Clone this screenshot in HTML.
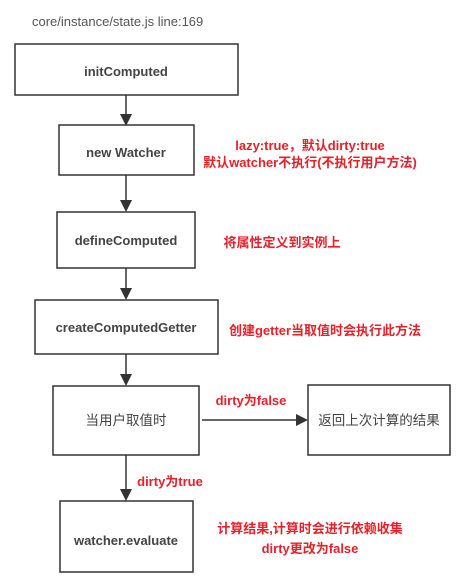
<!DOCTYPE html>
<html><head><meta charset="utf-8"><style>
body{margin:0;background:#fff;}
svg text{font-family:"Liberation Sans","Noto Sans CJK SC",sans-serif;}
</style></head><body>
<svg width="459" height="577" xmlns="http://www.w3.org/2000/svg">
<text x="32" y="26" font-size="13" fill="#555">core/instance/state.js  line:169</text>
<g fill="none" stroke="#333" stroke-width="1.5">
<rect x="15" y="44" width="223" height="51"/>
<rect x="59" y="125" width="135" height="50"/>
<rect x="57" y="212" width="138" height="56"/>
<rect x="35" y="300" width="183" height="54"/>
<rect x="53" y="386" width="146" height="69"/>
<rect x="308" y="385" width="142" height="70"/>
<rect x="60" y="501" width="133" height="71"/>
<line x1="126" y1="95" x2="126" y2="114"/>
<line x1="126" y1="175" x2="126" y2="201"/>
<line x1="126" y1="268" x2="126" y2="289"/>
<line x1="126" y1="354" x2="126" y2="375"/>
<line x1="126" y1="455" x2="126" y2="490"/>
<line x1="202" y1="420" x2="296" y2="420"/>
</g>
<g fill="#333">
<polygon points="120,114 132,114 126,126"/>
<polygon points="120,200 132,200 126,212"/>
<polygon points="120,288 132,288 126,300"/>
<polygon points="120,374 132,374 126,386"/>
<polygon points="120,489 132,489 126,501"/>
<polygon points="296,414 296,426 308,420"/>
</g>
<g font-size="13" font-weight="bold" fill="#444" text-anchor="middle">
<text x="126" y="76">initComputed</text>
<text x="126" y="157">new Watcher</text>
<text x="126" y="245">defineComputed</text>
<text x="126" y="332">createComputedGetter</text>
<text x="126" y="545">watcher.evaluate</text>
</g>
<g font-size="13.5" fill="#444" text-anchor="middle">
<text x="126" y="425">当用户取值时</text>
<text x="379" y="425">返回上次计算的结果</text>
</g>
<g font-size="13" font-weight="bold" fill="#e8202a" text-anchor="middle">
<text x="310" y="150">lazy:true，默认dirty:true</text>
<text x="310" y="167">默认watcher不执行(不执行用户方法)</text>
<text x="282" y="247">将属性定义到实例上</text>
<text x="325" y="335">创建getter当取值时会执行此方法</text>
<text x="251" y="405">dirty为false</text>
<text x="170" y="486">dirty为true</text>
<text x="310" y="533">计算结果,计算时会进行依赖收集</text>
<text x="310" y="553">dirty更改为false</text>
</g>
</svg>
</body></html>
